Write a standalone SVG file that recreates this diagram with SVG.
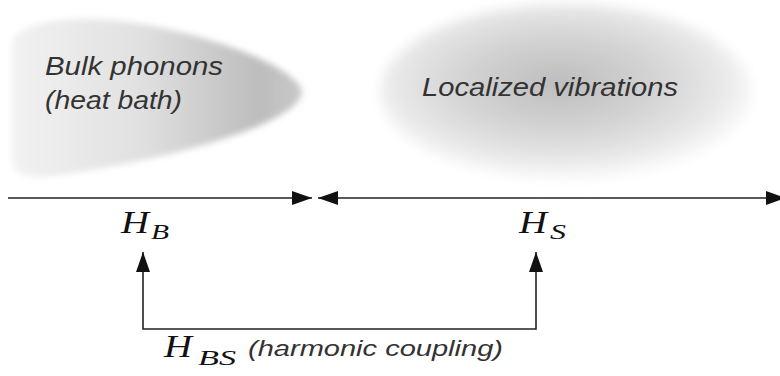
<svg xmlns="http://www.w3.org/2000/svg" width="780" height="376" viewBox="0 0 780 376">
<style>
.lbl{font-family:"Liberation Sans",Arial,sans-serif;font-style:italic;fill:#333}
.math{font-family:"Liberation Serif","Times New Roman",serif;font-style:italic;fill:#111}
.ln{fill:none;stroke:#222;stroke-width:1.6}
</style>
<defs>
<linearGradient id="gBulk" x1="0" y1="0" x2="1" y2="0">
<stop offset="0" stop-color="#f2f2f2"/>
<stop offset="0.45" stop-color="#e0e0e0"/>
<stop offset="0.85" stop-color="#bdbdbd"/>
<stop offset="1" stop-color="#c8c8c8"/>
</linearGradient>
<radialGradient id="gLoc" cx="0.48" cy="0.45" r="0.55">
<stop offset="0" stop-color="#bdbdbd"/>
<stop offset="0.45" stop-color="#d2d2d2"/>
<stop offset="0.8" stop-color="#e8e8e8"/>
<stop offset="1" stop-color="#f6f6f6" stop-opacity="0.6"/>
</radialGradient>
<filter id="soft" x="-10%" y="-10%" width="120%" height="120%">
<feGaussianBlur stdDeviation="3"/>
</filter>
<filter id="softer" x="-10%" y="-10%" width="120%" height="120%">
<feGaussianBlur stdDeviation="6"/>
</filter>
<marker id="ah" viewBox="0 0 20 14" refX="20" refY="7" markerWidth="20" markerHeight="14" markerUnits="userSpaceOnUse" orient="auto-start-reverse">
<path d="M0,0 L20,7 L0,14 Z" fill="#111"/>
</marker>
</defs>
<g id="bulk">
<path d="M12,46 C12,24 60,16 110,20 C200,28 300,68 302,92 C300,122 180,158 60,175 C22,181 12,171 12,160 Z" fill="url(#gBulk)" filter="url(#soft)"/>
<text class="lbl" x="45" y="75" font-size="25" textLength="178" lengthAdjust="spacingAndGlyphs">Bulk phonons</text>
<text class="lbl" x="45" y="109" font-size="25" textLength="137" lengthAdjust="spacingAndGlyphs">(heat bath)</text>
</g>
<g id="localized">
<ellipse cx="566" cy="92" rx="186" ry="88" fill="url(#gLoc)" filter="url(#softer)"/>
<text class="lbl" x="422" y="96" font-size="26" textLength="256" lengthAdjust="spacingAndGlyphs">Localized vibrations</text>
</g>
<g id="HB">
<text class="math" x="121" y="233" font-size="31" textLength="28" lengthAdjust="spacingAndGlyphs">H</text>
<text class="math" x="151" y="239" font-size="21" textLength="18" lengthAdjust="spacingAndGlyphs">B</text>
</g>
<g id="HS">
<text class="math" x="519" y="233" font-size="31" textLength="28" lengthAdjust="spacingAndGlyphs">H</text>
<text class="math" x="550" y="239" font-size="21" textLength="16" lengthAdjust="spacingAndGlyphs">S</text>
</g>
<g id="HBS">
<text class="math" x="164" y="357" font-size="31" textLength="28" lengthAdjust="spacingAndGlyphs">H</text>
<text class="math" x="198" y="365" font-size="21" textLength="38" lengthAdjust="spacingAndGlyphs">BS</text>
<text class="lbl" x="248" y="356" font-size="22" textLength="255" lengthAdjust="spacingAndGlyphs">(harmonic coupling)</text>
</g>
<g id="connectors">
<line class="ln" x1="8" y1="198" x2="312" y2="198" marker-end="url(#ah)"/>
<line class="ln" x1="318" y1="198" x2="786" y2="198" marker-start="url(#ah)" marker-end="url(#ah)"/>
<polyline class="ln" points="143,252 143,329 536,329 536,252" marker-start="url(#ah)" marker-end="url(#ah)"/>
</g>
</svg>
